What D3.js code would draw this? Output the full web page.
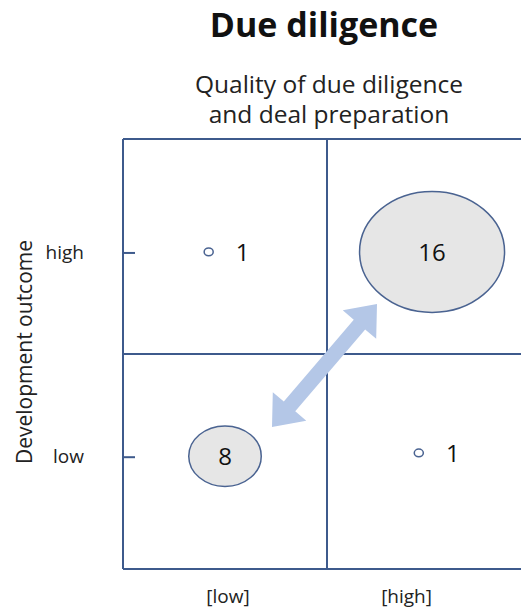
<!DOCTYPE html>
<html><head><meta charset="utf-8">
<script src="https://cdn.jsdelivr.net/npm/d3@7"></script>
<style>body{margin:0;background:#fff}svg{display:block}text{font-family:"Open Sans",sans-serif}</style>
</head><body><svg id="c" width="521" height="609"></svg>
<script>
const xCategories = ["[low]", "[high]"];
const yCategories = ["low", "high"];
// bubble positions in category units (0..2 on each axis) and counts
const bubbleX = [0.42, 1.515, 0.5, 1.45];
const bubbleY = [1.475, 1.475, 0.525, 0.54];
const bubbleValues = [1, 16, 8, 1];
const xTickPos = [0.515, 1.39];
const yTickPos = [0.52, 1.47];

const svg = d3.select("#c");
const x = d3.scaleLinear().domain([0, 2]).range([123, 531]);
const y = d3.scaleLinear().domain([0, 2]).range([569, 139]);
const rx = d3.scaleLinear().domain([0, 16]).range([0, 72.5]);
const ry = d3.scaleLinear().domain([0, 16]).range([0, 60.5]);
const lineCol = "#3e5a8c";

svg.append("text").attr("x", 324).attr("y", 37).attr("text-anchor", "middle")
  .attr("font-size", 34).attr("font-weight", "bold").attr("fill", "#111").text("Due diligence");
svg.append("text").attr("x", 329).attr("y", 93).attr("text-anchor", "middle")
  .attr("font-size", 24.5).attr("fill", "#222").text("Quality of due diligence");
svg.append("text").attr("x", 329).attr("y", 123).attr("text-anchor", "middle")
  .attr("font-size", 24.5).attr("fill", "#222").text("and deal preparation");
svg.append("text").attr("transform", "translate(32,352) rotate(-90)").attr("text-anchor", "middle")
  .attr("font-size", 21).attr("fill", "#222").text("Development outcome");

// grid frame
const g = svg.append("g").attr("stroke", lineCol).attr("stroke-width", 2).attr("fill", "none");
g.append("line").attr("x1", x(0)).attr("x2", x(0)).attr("y1", y(2)).attr("y2", y(0));
g.append("line").attr("x1", x(1)).attr("x2", x(1)).attr("y1", y(2)).attr("y2", y(0));
g.append("line").attr("x1", x(0)).attr("x2", x(2)).attr("y1", y(2)).attr("y2", y(2));
g.append("line").attr("x1", x(0)).attr("x2", x(2)).attr("y1", y(1)).attr("y2", y(1));
g.append("line").attr("x1", x(0)).attr("x2", x(2)).attr("y1", y(0)).attr("y2", y(0));
// y ticks
[...yTickPos, 1].forEach(v => g.append("line").attr("x1", x(0)).attr("x2", x(0) + 12).attr("y1", y(v)).attr("y2", y(v)));

svg.selectAll(".yl").data(yCategories).join("text").attr("class", "yl")
  .attr("x", 84).attr("y", (d, i) => y(yTickPos[i]) + 6).attr("text-anchor", "end")
  .attr("font-size", 19).attr("fill", "#222").text(d => d);
svg.selectAll(".xl").data(xCategories).join("text").attr("class", "xl")
  .attr("x", (d, i) => x(xTickPos[i])).attr("y", 603).attr("text-anchor", "middle")
  .attr("font-size", 19).attr("fill", "#222").text(d => d);

// arrow
const a0 = [272, 427], a1 = [377, 304];
const ang = Math.atan2(a1[1] - a0[1], a1[0] - a0[0]);
const len = Math.hypot(a1[0] - a0[0], a1[1] - a0[1]);
const hl = 27, hw = 22, sw = 7.5;
const pts = [[0, 0], [hl, -hw], [hl, -sw], [len - hl, -sw], [len - hl, -hw], [len, 0], [len - hl, hw], [len - hl, sw], [hl, sw], [hl, hw]];
svg.append("path").attr("d", "M" + pts.map(p => p.join(",")).join("L") + "Z")
  .attr("transform", `translate(${a0[0]},${a0[1]}) rotate(${ang * 180 / Math.PI})`)
  .attr("fill", "#b4c7e7");

// bubbles
const data = bubbleValues.map((v, i) => ({ v, x: bubbleX[i], y: bubbleY[i] }));
svg.selectAll("ellipse").data(data).join("ellipse")
  .attr("cx", d => x(d.x)).attr("cy", d => y(d.y))
  .attr("rx", d => Math.max(rx(d.v), 4)).attr("ry", d => Math.max(ry(d.v), 3.8))
  .attr("fill", d => d.v > 1 ? "#e6e6e6" : "#fff").attr("stroke", "#4a6391").attr("stroke-width", 1.5);
svg.selectAll(".bl").data(data).join("text").attr("class", "bl")
  .attr("x", d => d.v > 1 ? x(d.x) : x(d.x) + 34).attr("y", d => y(d.y) + 9)
  .attr("text-anchor", "middle").attr("font-size", 24).attr("fill", "#111").text(d => d.v);
</script></body></html>
